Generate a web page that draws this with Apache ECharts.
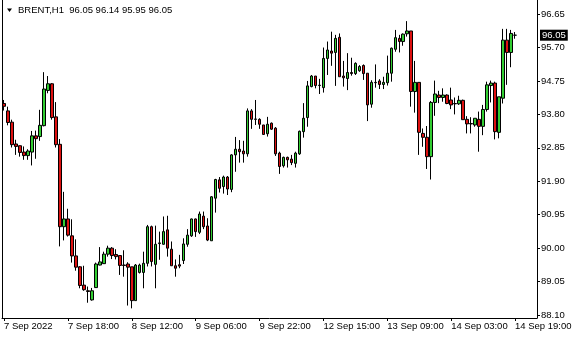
<!DOCTYPE html>
<html>
<head>
<meta charset="utf-8">
<script src="https://cdn.jsdelivr.net/npm/echarts@6/dist/echarts.min.js"></script>
<style>
html,body{margin:0;padding:0;background:#fff;}
#chart{width:580px;height:340px;}
</style>
</head>
<body>
<div id="chart"></div>
<script>
const symbolTitle = 'BRENT,H1  96.05 96.14 95.95 96.05';
const lastPrice = 96.05;
const opens = [94.11,93.90,93.58,92.96,92.91,92.73,92.63,92.73,93.19,93.17,93.48,94.48,94.67,93.73,92.95,90.61,90.83,90.35,89.78,89.47,88.95,88.79,88.53,88.88,89.52,89.56,89.83,90.00,89.82,89.79,89.52,89.55,89.47,88.51,89.31,89.31,89.57,90.61,89.54,90.13,90.11,90.52,89.97,89.50,89.53,89.65,90.11,90.35,90.83,90.45,90.91,90.63,90.21,91.42,91.94,91.75,92.02,91.67,92.65,92.81,92.76,92.68,93.90,93.66,93.66,93.50,93.25,93.55,93.41,92.70,92.34,92.58,92.53,92.41,92.68,93.31,93.71,94.59,94.89,94.62,94.56,95.39,95.60,95.56,95.99,94.89,94.82,94.99,94.96,95.04,95.19,94.97,94.09,94.71,94.75,94.65,94.70,94.97,95.65,95.96,95.87,96.09,96.17,94.45,94.71,93.26,93.15,92.60,94.14,94.35,94.28,94.35,94.21,94.11,94.10,94.20,93.66,93.54,93.50,93.66,93.46,93.94,94.62,94.69,93.29,94.26,95.91,95.56,96.05];
const highs = [94.21,94.02,93.65,93.08,92.92,92.89,92.81,93.33,93.34,93.93,95.00,94.89,94.69,94.15,93.10,91.60,91.12,90.82,90.25,89.49,89.50,88.91,88.87,89.59,90.03,89.90,90.07,90.03,89.97,89.79,89.94,89.60,89.47,89.55,89.56,89.90,90.66,90.64,90.64,90.47,90.90,90.92,90.19,89.68,89.81,90.28,90.54,90.84,90.84,91.04,91.04,90.85,91.48,91.97,92.02,92.06,92.05,92.67,93.16,93.07,93.05,93.97,93.95,94.21,93.69,93.50,93.73,93.57,93.44,92.74,92.60,92.60,92.65,92.74,93.34,94.12,94.75,94.92,94.89,94.81,95.70,95.87,96.15,96.06,96.10,95.32,95.54,95.41,95.28,95.20,95.22,94.97,94.77,95.22,94.80,94.87,95.47,95.70,96.20,96.06,96.10,96.45,96.17,95.32,94.71,93.40,93.47,94.18,94.76,94.47,94.54,94.37,94.56,94.28,94.33,94.22,93.75,93.72,93.69,93.88,94.07,94.73,94.76,94.73,94.30,96.23,96.23,96.20,96.14];
const lows = [93.91,93.49,92.86,92.65,92.60,92.51,92.51,92.35,92.54,93.05,93.46,94.40,93.65,92.86,90.05,90.22,90.33,89.59,89.36,88.86,88.79,88.45,88.51,88.87,89.51,89.55,89.76,89.69,89.68,89.24,89.19,88.37,88.29,88.51,89.28,88.86,89.48,89.48,88.86,89.67,90.10,89.76,89.50,89.19,89.43,89.55,90.04,90.32,90.32,90.40,90.54,90.20,90.21,91.01,91.58,91.55,91.51,91.59,92.17,92.43,92.43,92.60,93.39,93.50,93.39,93.22,93.17,93.36,92.62,92.11,92.29,92.29,92.36,92.29,92.65,93.14,93.45,94.57,94.54,94.38,94.42,94.92,95.18,94.61,94.87,94.59,94.49,94.90,94.92,95.01,94.78,93.61,93.99,94.56,94.52,94.52,94.62,94.73,95.58,95.56,95.75,96.01,94.02,93.85,92.65,92.88,92.25,91.95,93.76,94.12,94.16,94.09,93.95,93.80,94.07,93.65,93.26,93.26,93.45,92.74,93.21,93.88,94.14,93.09,93.12,94.11,94.64,95.14,95.95];
const closes = [94.03,93.57,92.94,92.89,92.72,92.63,92.76,93.19,93.11,93.49,94.52,94.67,93.71,92.94,90.61,90.83,90.37,89.78,89.46,88.94,88.82,88.77,88.79,89.55,89.61,89.83,90.00,89.79,89.76,89.51,89.51,89.46,88.51,89.52,89.52,89.57,90.61,89.62,90.11,90.15,90.47,90.00,89.50,89.43,89.49,90.12,90.37,90.83,90.47,90.97,90.61,90.23,91.46,91.95,91.70,92.02,91.68,92.65,92.81,92.74,92.68,93.90,93.66,93.67,93.52,93.23,93.52,93.38,92.68,92.32,92.58,92.51,92.43,92.70,93.32,93.69,94.61,94.89,94.62,94.63,95.39,95.63,95.54,95.96,94.87,94.84,94.99,94.96,95.25,95.16,94.96,94.07,94.71,94.70,94.65,94.71,94.97,95.68,95.98,95.87,96.08,96.17,94.45,94.71,93.29,93.15,92.60,94.14,94.38,94.28,94.35,94.11,94.07,94.10,94.20,93.65,93.53,93.53,93.69,93.46,93.94,94.64,94.69,93.31,94.30,95.91,95.56,96.10,96.05];
const timeLabels = ['7 Sep 2022','7 Sep 18:00','8 Sep 12:00','9 Sep 06:00','9 Sep 22:00','12 Sep 15:00','13 Sep 09:00','14 Sep 03:00','14 Sep 19:00'];
const timeLabelBars = [0,16,32,48,64,80,96,112,128];
const priceTicks = [88.10,89.05,90.00,90.95,91.90,92.85,93.80,94.75,95.70,96.65];
const priceMin = 88.016, priceMax = 97.05;
const slotCount = 134;

const categories = [];
for (let i = 0; i < slotCount; i++) categories.push('');
timeLabelBars.forEach((b, j) => { categories[b] = timeLabels[j]; });
const candles = opens.map((o, i) => [o, closes[i], lows[i], highs[i]]);

const FONT = 'Liberation Sans';
const chart = echarts.init(document.getElementById('chart'), null, {renderer: 'canvas'});
chart.setOption({
  animation: false,
  backgroundColor: '#ffffff',
  title: {
    text: symbolTitle, left: 18, top: 5, padding: 0,
    textStyle: {fontFamily: FONT, fontSize: 9.5, fontWeight: 'normal', color: '#000', lineHeight: 11}
  },
  graphic: [{
    type: 'polygon', shape: {points: [[7, 8.5], [12, 8.5], [9.5, 12]]},
    style: {fill: '#000'}
  }],
  grid: {left: 2, right: 43, top: 0, bottom: 22, containLabel: false},
  xAxis: {
    type: 'category', data: categories, boundaryGap: true,
    axisLine: {show: true, lineStyle: {color: '#000', width: 1}},
    axisTick: {show: true, alignWithLabel: true, length: 3, lineStyle: {color: '#000'},
      interval: (idx, val) => val !== ''},
    axisLabel: {show: true, align: 'left', margin: 3, color: '#000', fontFamily: FONT, fontSize: 9.5,
      interval: (idx, val) => val !== ''},
    splitLine: {show: false}
  },
  yAxis: [{
    type: 'value', position: 'right', min: priceMin, max: priceMax, scale: true,
    axisLine: {show: true, lineStyle: {color: '#000', width: 1}},
    axisTick: {show: true, length: 3, lineStyle: {color: '#000'}, customValues: priceTicks},
    axisLabel: {show: true, margin: 4, color: '#000', fontFamily: FONT, fontSize: 9.5,
      customValues: priceTicks, formatter: v => v.toFixed(2)},
    splitLine: {show: false}
  }, {
    type: 'value', position: 'left', min: priceMin, max: priceMax, scale: true,
    axisLine: {show: true, onZero: false, lineStyle: {color: '#000', width: 1}},
    axisTick: {show: false}, axisLabel: {show: false}, splitLine: {show: false}
  }],
  series: [{
    type: 'candlestick', yAxisIndex: 0, data: candles, barWidth: 3,
    itemStyle: {
      color: '#32CD32', color0: '#DD1111',
      borderColor: '#000', borderColor0: '#000', borderColorDoji: '#000', borderWidth: 1
    },
    markLine: {
      silent: true, symbol: ['none', 'none'],
      lineStyle: {color: 'rgba(0,0,0,0)', width: 0},
      label: {show: true, position: 'end', distance: 3, formatter: lastPrice.toFixed(2),
        color: '#fff', backgroundColor: '#000', padding: [1, 2, 0, 2],
        fontFamily: FONT, fontSize: 9.5},
      data: [{yAxis: lastPrice}]
    }
  }]
});
</script>
</body>
</html>
